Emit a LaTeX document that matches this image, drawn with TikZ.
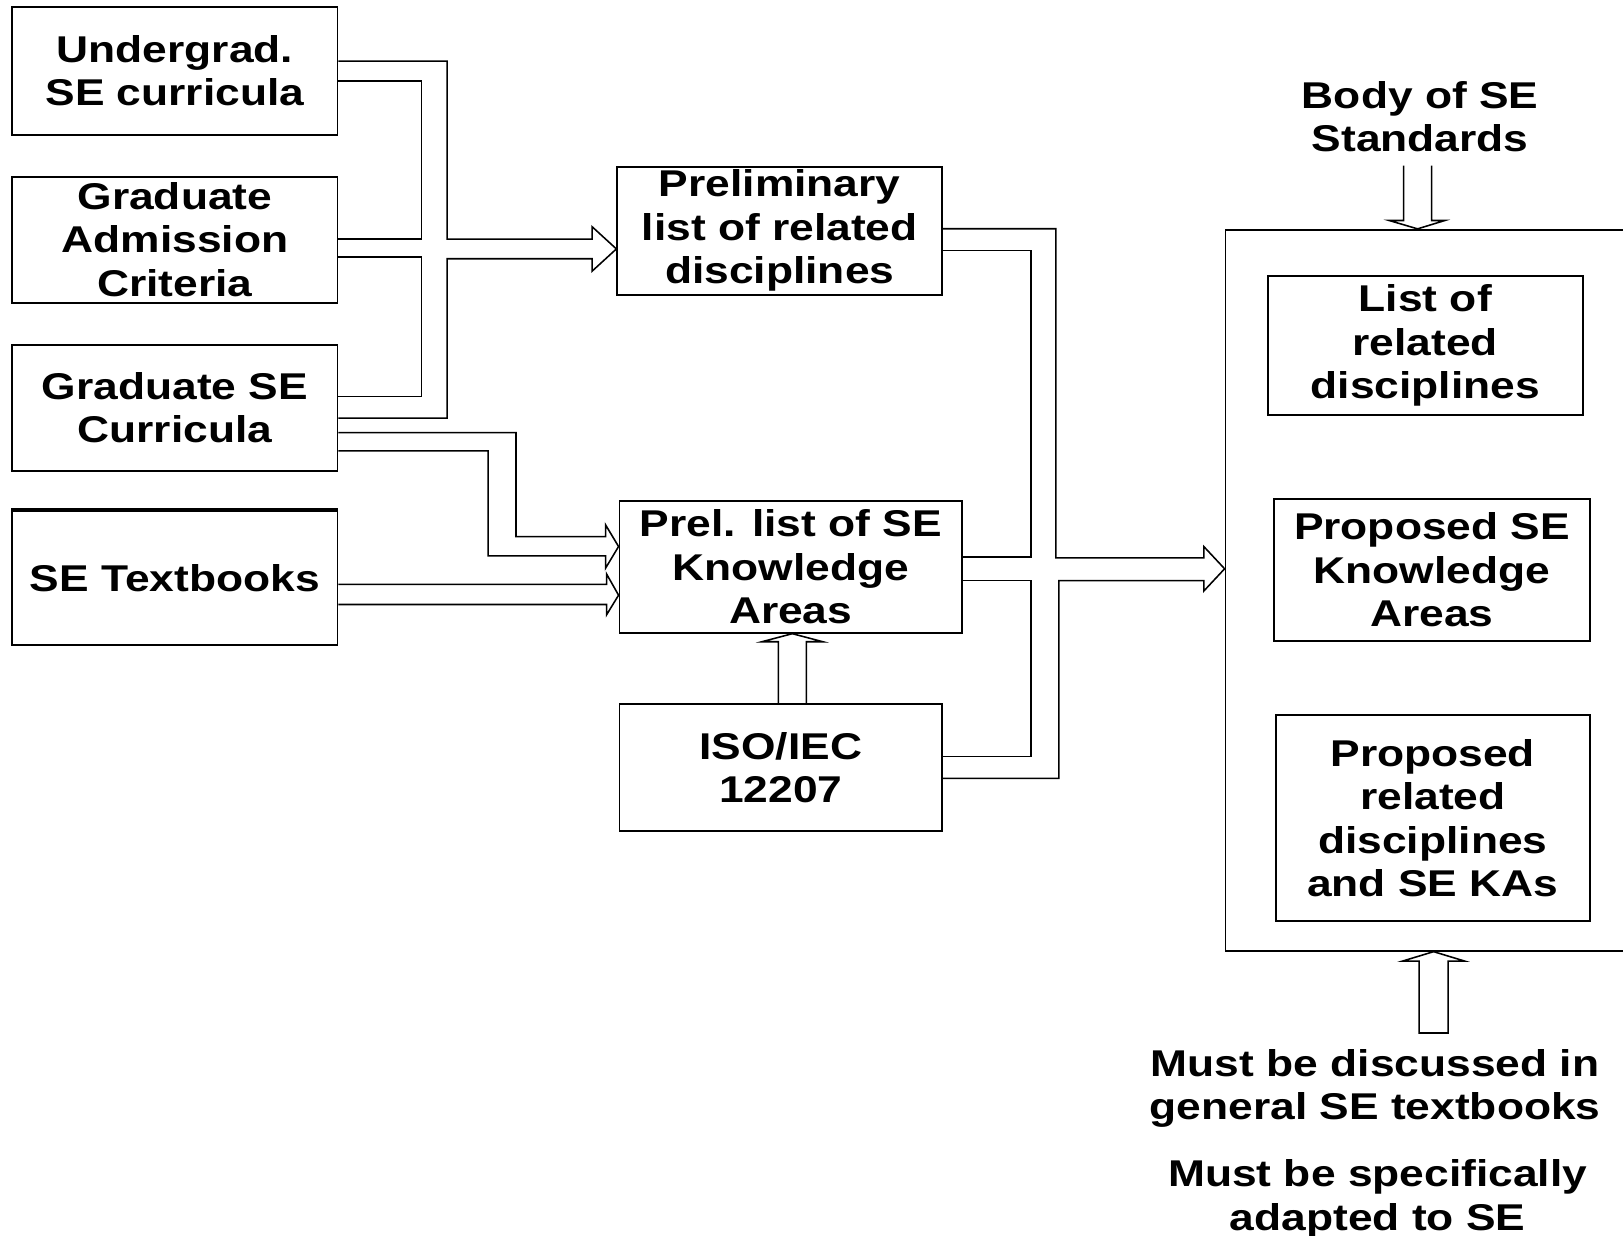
\documentclass[tikz,border=0pt]{standalone}
\usepackage{fontspec}
\newfontfamily\diagfont{Liberation Sans}[FakeStretch=1.19]
\newcommand\diagtext{\diagfont\bfseries\fontsize{36}{42}\selectfont}
\begin{document}
\begin{tikzpicture}[x=1pt,y=-1pt,
  box/.style={draw, line width=1.8pt, inner sep=0pt, align=center, font=\diagtext},
  freetext/.style={inner sep=0pt, align=center, font=\diagtext},
  wire/.style={line width=1.5pt, line join=miter}]
\useasboundingbox (0,0) rectangle (1568,1194);
\clip (0,0) rectangle (1568,1194);
\fill[white] (0,0) rectangle (1568,1194);

% sources
\node[box, minimum width=314pt, minimum height=124pt]   (U)   at (169,68.5)  {Undergrad.\\SE curricula};
\node[box, minimum width=314pt, minimum height=121.7pt] (GA)  at (169,231.5) {Graduate\\Admission\\Criteria};
\node[box, minimum width=314pt, minimum height=121.5pt] (GSE) at (169,394)   {Graduate SE\\Curricula};
\node[box, minimum width=314pt, minimum height=129.5pt] (SET) at (169,558.5) {SE Textbooks};
\draw[line width=4pt] (SET.north west) -- (SET.north east);

% intermediate lists
\node[box, minimum width=313.8pt, minimum height=124pt]   (Pre) at (753.3,223)    {Preliminary\\list of related\\disciplines};
\node[box, minimum width=330.8pt, minimum height=127.6pt] (PKA) at (763.9,547.5)  {Prel. list of SE\\Knowledge\\Areas};
\node[box, minimum width=311.7pt, minimum height=122.1pt] (ISO) at (754.35,741.55) {ISO/IEC\\12207};

% results
\node[box, minimum width=516pt, minimum height=696.5pt] (Big) at (1442,570.25) {};
\node[box, minimum width=304pt, minimum height=134pt]   (LRD)  at (1377,334)     {List of\\related\\disciplines};
\node[box, minimum width=305pt, minimum height=137pt]   (PSKA) at (1383.5,550.5) {Proposed SE\\Knowledge\\Areas};
\node[box, minimum width=303.5pt, minimum height=198.5pt] (PRD) at (1384.25,790.25) {Proposed\\related\\disciplines\\and SE KAs};

% free labels
\node[freetext] (Body)  at (1372,112.6)  {Body of SE\\Standards};
\node[freetext] (Must1) at (1328.5,1051.7) {Must be discussed in\\general SE textbooks};
\node[freetext] (Must2) at (1331,1158)   {Must be specifically\\adapted to SE};

% curricula -> preliminary list of related disciplines
\draw[wire] (U.east |- 0,59) -| (432,231) -- (572,231) -- (572,219)
  -- (Pre.west |- 0,240.5) -- (572,262) -- (572,250) -- (432,250) |- (GSE.east |- 0,404);
\draw[wire] (U.east |- 0,78.5) -| (407,231) -- (GA.east |- 0,231);
\draw[wire] (GA.east |- 0,248.5) -| (407,383) -- (GSE.east |- 0,383);

% graduate curricula -> prel. list of knowledge areas
\draw[wire] (GSE.east |- 0,418) -| (498.5,518.5) -- (585,518.5) -- (585,507)
  -- (PKA.west |- 0,528) -- (585,549) -- (585,537) -- (471.5,537) |- (GSE.east |- 0,435.5);
% textbooks -> prel. list of knowledge areas
\draw[wire] (SET.east |- 0,564.5) -- (586,564.5) -- (586,554.5)
  -- (PKA.west |- 0,575) -- (586,594) -- (586,584) -- (SET.east |- 0,584);

% ISO/IEC 12207 -> prel. list of knowledge areas
\draw[wire] (ISO.north -| 752,0) -- (752,620) -- (736,620) -- (PKA.south -| 765.5,0)
  -- (795,620) -- (779,620) -- (ISO.north -| 779,0);

% lists -> result box
\draw[wire] (Pre.east |- 0,221) -| (1020,539) -- (1163,539) -- (1163,528)
  -- (Big.west |- 0,549.5) -- (1163,571) -- (1163,561) -- (1023,561) |- (ISO.east |- 0,752);
\draw[wire] (Pre.east |- 0,242) -| (996,538) -- (PKA.east |- 0,538);
\draw[wire] (PKA.east |- 0,561) -| (996,731) -- (ISO.east |- 0,731);

% standards -> result box
\coordinate (bodyL) at (1356,160);
\coordinate (bodyR) at (1383,160);
\draw[wire] (bodyL) -- (1356,213) -- (1342,213) -- (Big.north -| 1369.5,0)
  -- (1396,213) -- (1383,213) -- (bodyR);

% textbook requirement -> result box
\coordinate (footL) at (1371,998);
\coordinate (footR) at (1399,998);
\draw[wire] (footL) -- (1371,928.5) -- (1355,928.5) -- (Big.south -| 1385,0)
  -- (1415,928.5) -- (1399,928.5) -- (footR) -- cycle;
\end{tikzpicture}
\end{document}
